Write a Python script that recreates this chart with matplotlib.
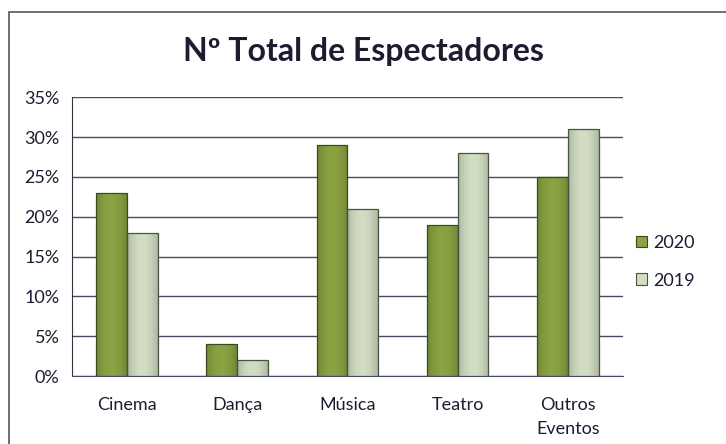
import numpy as np
import matplotlib.pyplot as plt
from matplotlib.patches import Rectangle
from matplotlib.colors import to_rgb
from matplotlib.ticker import PercentFormatter

categories = ["Cinema", "Dança", "Música", "Teatro", "Outros\nEventos"]
vals_2020 = [23, 4, 29, 19, 25]
vals_2019 = [18, 2, 21, 28, 31]
series_names = ["2020", "2019"]

plt.rcParams['font.family'] = ['Lato', 'DejaVu Sans']
TXT = '#1c1c30'


def shade(ax, bars, color):
    # soft horizontal gradient, darker toward the bar edges
    c = np.array(to_rgb(color))
    t = np.linspace(-1, 1, 64)
    f = 1 - 0.18 * t ** 2
    img = np.clip(c[None, None, :] * f[None, :, None], 0, 1)
    for b in bars:
        x0, y0 = b.get_x(), b.get_y()
        im = ax.imshow(img, extent=(x0, x0 + b.get_width(), y0, y0 + b.get_height()),
                       aspect='auto', zorder=3, interpolation='bilinear')
        im.set_clip_path(b)


fig = plt.figure(figsize=(7.26, 4.44), dpi=100)
fig.patches.append(Rectangle((0.012, -0.05), 1.1, 1.022, transform=fig.transFigure,
                             fill=False, edgecolor='#555566', lw=1.2))

ax = fig.add_axes([0.099, 0.153, 0.759, 0.628])
x = np.arange(len(categories))
w = 0.28
b1 = ax.bar(x - w / 2, vals_2020, w, color='#8aa343', edgecolor='#3a4a1c', lw=0.9,
            label=series_names[0], zorder=4)
b2 = ax.bar(x + w / 2, vals_2019, w, color='#d2ddc4', edgecolor='#4a5244', lw=0.9,
            label=series_names[1], zorder=4)
for bars in (b1, b2):
    col = bars[0].get_facecolor()
    for b in bars:
        b.set_facecolor('none')
    shade(ax, bars, col)
    for b in bars:
        b.set_zorder(4)

ax.set_ylim(0, 35)
ax.set_xlim(-0.5, len(categories) - 0.5)
ax.set_yticks(range(0, 36, 5))
ax.yaxis.set_major_formatter(PercentFormatter(decimals=0))
ax.grid(axis='y', color='#4a4a5e', lw=1.0, zorder=0)
ax.set_xticks(x)
ax.set_xticklabels(categories, linespacing=1.6)
ax.tick_params(axis='both', length=0, labelsize=13, colors=TXT)
ax.tick_params(axis='x', pad=15)
ax.tick_params(axis='y', pad=9)
for s in ['top', 'right']:
    ax.spines[s].set_visible(False)
ax.spines['left'].set_color('#333344')
ax.spines['bottom'].set_color('#4a4a5e')

fig.text(0.5, 0.885, "Nº Total de Espectadores", ha='center', va='center',
         fontsize=23, fontweight='bold', color=TXT)

h1 = Rectangle((0, 0), 1, 1, facecolor='#8aa343', edgecolor='#3a4a1c', lw=0.8)
h2 = Rectangle((0, 0), 1, 1, facecolor='#d2ddc4', edgecolor='#4a5244', lw=0.8)
ax.legend([h1, h2], series_names, loc='center left', bbox_to_anchor=(0.995, 0.41),
          frameon=False, fontsize=13, handlelength=0.6, handleheight=0.6,
          handletextpad=0.35, labelspacing=1.2, labelcolor=TXT)

fig.savefig("out.png", dpi=100)
